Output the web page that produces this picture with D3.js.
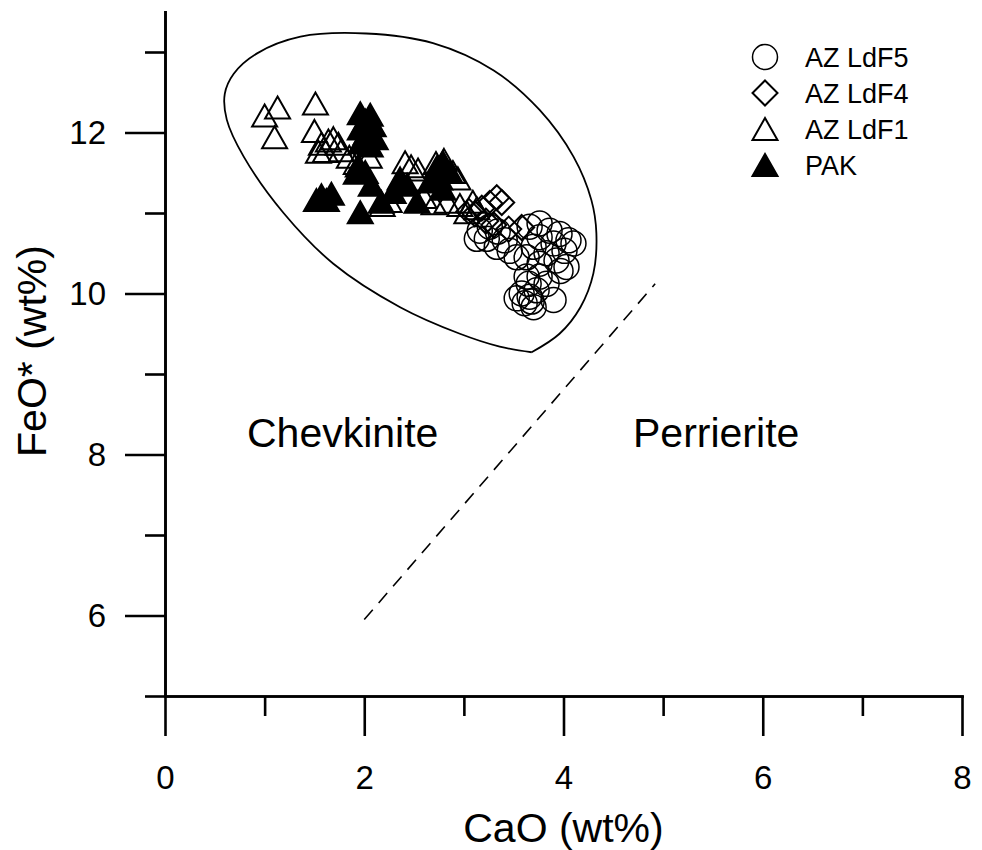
<!DOCTYPE html>
<html>
<head>
<meta charset="utf-8">
<script src="https://cdn.jsdelivr.net/npm/d3@7/dist/d3.min.js"></script>
<style>
  html, body { margin: 0; padding: 0; background: #fff; }
  svg { display: block; }
  text { font-family: "Liberation Sans", Arial, Helvetica, sans-serif; fill: #000; }
</style>
</head>
<body>
<svg id="chart" width="982" height="850"></svg>
<script>
// Chevkinite-group minerals: FeO* vs CaO (wt%)

// AZ LdF5 analyses [CaO, FeO*]
const ldf5Points = [
  [3.16,10.78],[3.26,10.83],[3.34,10.77],[3.23,10.68],[3.41,10.66],[3.33,10.58],
  [3.46,10.53],[3.53,10.45],[3.13,10.68],
  [3.66,10.83],[3.76,10.87],[3.86,10.78],[3.96,10.74],[4.05,10.66],[4.10,10.62],
  [3.76,10.70],[3.90,10.62],[4.01,10.53],[3.70,10.58],[3.83,10.50],[3.63,10.45],
  [3.93,10.41],[4.03,10.33],[3.76,10.37],[3.97,10.28],
  [3.65,10.12],[3.58,10.00],[3.66,9.96],[3.61,9.88],[3.73,10.04],[3.70,9.83],
  [3.53,9.94],[3.76,10.21],[3.90,9.92],[3.83,10.12],[3.63,10.21],[3.68,9.90]
];

// AZ LdF4 analyses [CaO, FeO*]
const ldf4Points = [
  [3.33,11.19],[3.38,11.13],[3.26,11.12],[3.18,11.06],[3.11,10.99],[3.58,10.82],
  [3.22,10.90],[3.30,10.85],[3.45,10.80],[3.05,11.02]
];

// AZ LdF1 analyses [CaO, FeO*]
const ldf1Points = [
  [1.00,12.21],[1.13,12.31],[1.10,11.94],[1.51,12.36],[1.50,12.02],
  [1.57,11.86],[1.64,11.90],[1.69,11.93],[1.61,11.77],[1.54,11.76],[1.74,11.86],
  [1.77,11.78],[1.85,11.70],[1.92,11.62],[2.05,11.70],
  [2.41,11.63],[2.54,11.54],[2.47,11.58],[2.72,11.62],[2.80,11.66],
  [2.89,11.51],[2.94,11.43],[2.83,11.14],[2.96,11.10],[3.09,11.14],[3.03,11.01],
  [3.13,11.06],[2.18,11.10],[2.25,11.15],[2.60,11.20],[2.70,11.12]
];

// PAK analyses [CaO, FeO*]
const pakPoints = [
  [1.57,11.22],[1.67,11.24],[1.62,11.16],[1.52,11.16],
  [1.96,12.24],[2.06,12.22],[2.01,12.15],[2.09,12.09],[1.96,12.05],[2.02,11.99],
  [2.11,11.93],[1.97,11.88],[2.06,11.84],
  [1.94,11.59],[2.01,11.51],[1.92,11.50],[2.07,11.35],[1.96,11.01],
  [2.36,11.43],[2.29,11.26],[2.17,11.14],[2.53,11.14],[2.43,11.35],
  [2.73,11.57],[2.79,11.63],[2.86,11.51],[2.76,11.43],[2.79,11.30],[2.66,11.39]
];

// Field outline enclosing the chevkinite analyses [CaO, FeO*]
const fieldOutline = [
  [3.68,9.27],[3.36,9.34],[2.96,9.50],[2.36,9.83],[1.69,10.37],[1.19,11.00],
  [0.79,11.70],[0.62,12.16],[0.60,12.48],[0.69,12.73],[0.92,12.98],[1.36,13.19],
  [2.02,13.23],[2.69,13.11],[3.30,12.77],[3.76,12.28],[4.10,11.70],[4.28,11.16],
  [4.33,10.75],[4.30,10.25],[4.17,9.83],[3.96,9.50],[3.68,9.27]
];

// Chevkinite / perrierite discriminant line [CaO, FeO*]
const divider = [[2.00,5.95],[4.92,10.12]];

// Axis ticks
const xMajor = [0, 2, 4, 6, 8];
const xMinor = [1, 3, 5, 7];
const yMajor = [6, 8, 10, 12];
const yMinor = [5, 7, 9, 11, 13];

const legendItems = [
  { label: "AZ LdF5", symbol: "circle" },
  { label: "AZ LdF4", symbol: "diamond" },
  { label: "AZ LdF1", symbol: "triangleOpen" },
  { label: "PAK", symbol: "triangleFilled" }
];

const svg = d3.select("#chart");

const x = d3.scaleLinear().domain([0, 8]).range([165, 962]);
const y = d3.scaleLinear().domain([5, 13.5]).range([696, 11.75]);

// Symbol shapes (centred at origin)
const TRI_W = 12.5, TRI_H = 11;
const DIA = 12.5;
const CIR = 12.5;
function drawSymbol(g, kind) {
  if (kind === "circle") {
    g.append("circle").attr("r", CIR)
      .attr("fill", "none").attr("stroke", "#000").attr("stroke-width", 1.5);
  } else if (kind === "diamond") {
    g.append("path").attr("d", `M0,${-DIA}L${DIA},0L0,${DIA}L${-DIA},0Z`)
      .attr("fill", "none").attr("stroke", "#000").attr("stroke-width", 2);
  } else {
    const p = g.append("path").attr("d", `M0,${-TRI_H}L${TRI_W},${TRI_H}L${-TRI_W},${TRI_H}Z`)
      .attr("stroke", "#000").attr("stroke-width", 2).attr("stroke-linejoin", "miter");
    p.attr("fill", kind === "triangleFilled" ? "#000" : "none");
  }
}

// Field outline
const outline = d3.line().x(d => x(d[0])).y(d => y(d[1])).curve(d3.curveCatmullRom.alpha(0.5));
svg.append("path").datum(fieldOutline)
  .attr("d", outline)
  .attr("fill", "none").attr("stroke", "#000").attr("stroke-width", 1.8);

// Divider line
svg.append("line")
  .attr("x1", x(divider[0][0])).attr("y1", y(divider[0][1]))
  .attr("x2", x(divider[1][0])).attr("y2", y(divider[1][1]))
  .attr("stroke", "#000").attr("stroke-width", 1.6).attr("stroke-dasharray", "13,9");

// Data points
function plotSeries(points, kind) {
  const g = svg.append("g");
  g.selectAll("g").data(points).join("g")
    .attr("transform", d => `translate(${x(d[0])},${y(d[1])})`)
    .each(function () { drawSymbol(d3.select(this), kind); });
}
plotSeries(ldf5Points, "circle");
plotSeries(ldf4Points, "diamond");
plotSeries(ldf1Points, "triangleOpen");
plotSeries(pakPoints, "triangleFilled");

// Axes
const axisStroke = 2.6;
function styleAxis(g) {
  g.selectAll("path, line").attr("stroke", "#000").attr("stroke-width", axisStroke);
  g.selectAll("text").style("font-size", "33px").attr("fill", "#000");
}
svg.append("g").attr("transform", `translate(0,${y(5)})`)
  .call(d3.axisBottom(x).tickValues(xMinor).tickSize(20).tickSizeOuter(0).tickFormat(""))
  .call(styleAxis);
svg.append("g").attr("transform", `translate(0,${y(5)})`)
  .call(d3.axisBottom(x).tickValues(xMajor).tickSize(40).tickSizeOuter(0).tickPadding(30).tickFormat(d3.format("d")))
  .call(styleAxis);
svg.append("g").attr("transform", `translate(${x(0)},0)`)
  .call(d3.axisLeft(y).tickValues(yMinor).tickSize(20).tickSizeOuter(0).tickFormat(""))
  .call(styleAxis);
svg.append("g").attr("transform", `translate(${x(0)},0)`)
  .call(d3.axisLeft(y).tickValues(yMajor).tickSize(40).tickSizeOuter(0).tickPadding(19).tickFormat(d3.format("d")))
  .call(styleAxis);
svg.selectAll(".domain").attr("stroke-linecap", "square");

// Axis titles
svg.append("text")
  .attr("x", x(4)).attr("y", 842)
  .attr("text-anchor", "middle").style("font-size", "41px")
  .text("CaO (wt%)");
svg.append("text")
  .attr("transform", "translate(46,351) rotate(-90)")
  .attr("text-anchor", "middle").style("font-size", "41px")
  .text("FeO* (wt%)");

// Field labels
svg.append("text").attr("x", 247).attr("y", 447).style("font-size", "41px").text("Chevkinite");
svg.append("text").attr("x", 633).attr("y", 447).style("font-size", "41px").text("Perrierite");

// Legend
const legend = svg.append("g").attr("transform", "translate(765,57)");
legendItems.forEach((item, i) => {
  const row = legend.append("g").attr("transform", `translate(0,${i * 36})`);
  drawSymbol(row.append("g"), item.symbol);
  row.append("text").attr("x", 40).attr("y", 10).style("font-size", "27px").text(item.label);
});
</script>
</body>
</html>
